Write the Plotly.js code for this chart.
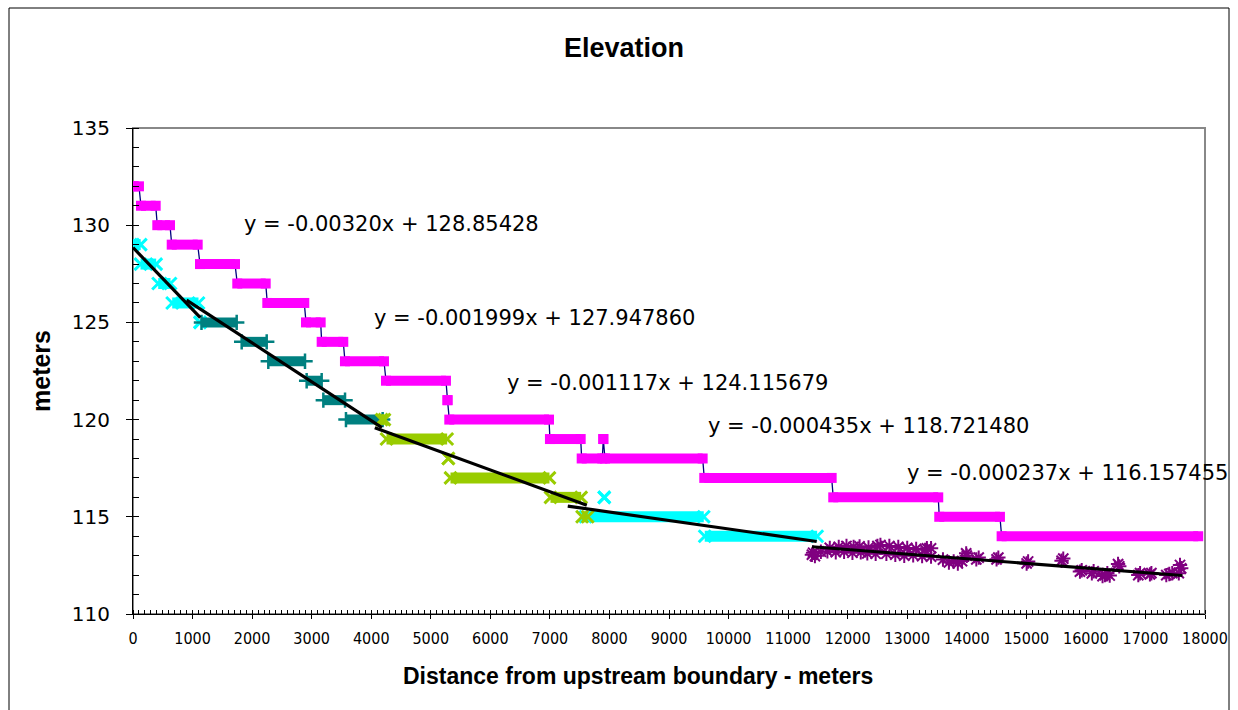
<!DOCTYPE html>
<html><head><meta charset="utf-8">
<script src="https://cdn.plot.ly/plotly-3.0.1.min.js"></script>
<style>html,body{margin:0;padding:0;background:#fff;} #chart{width:1238px;height:710px;}</style>
</head><body><div id="chart"></div>
<script>
// Magenta step series (square markers joined by a thin navy line)
const magentaLevel = [132, 131, 130, 129, 128, 127, 126, 125, 124, 123, 122, 121, 120, 119, 118, 119, 118, 117, 116, 115, 114];
const magentaStart = [0, 134, 408, 650, 1125, 1751, 2255, 2905, 3168, 3559, 4248, 5281, 5311, 7001, 7534, 7897, 7925, 9592, 11758, 13538, 14585];
const magentaEnd   = [100, 381, 621, 1086, 1713, 2228, 2876, 3151, 3531, 4214, 5255, 5281, 6985, 7517, 7880, 7897, 9565, 11731, 13521, 14557, 17886];

// Cyan x-marker series
const cyanLevel = [129, 128, 127, 126, 125, 116, 115, 114];
const cyanStart = [0, 126, 423, 658, 1125, 7913, 7600, 9600];
const cyanEnd   = [130, 389, 630, 1100, 1125, 7913, 9584, 11488];

// Teal plus-marker series
const tealLevel = [125, 124, 123, 122, 121, 120];
const tealStart = [1150, 1825, 2272, 2916, 3196, 3576];
const tealEnd   = [1741, 2245, 2888, 3168, 3560, 4192];

// Yellow-green x-marker series
const ygLevel = [120, 119, 118, 117, 116, 115];
const ygStart = [4175, 4256, 5295, 5331, 7010, 7541];
const ygEnd   = [4222, 5275, 5295, 6993, 7525, 7635];

// Purple star-marker series (survey points)
const purpleX = [11400, 11420, 11450, 11550, 11660, 11800, 11940, 12080, 12220, 12330, 12470,
  11700, 11850, 11980, 12100, 12200, 12350, 12500,
  12550, 12700, 12850, 13000, 13150, 13300, 13400,
  12650, 12800, 12950, 13100, 13250, 13400, 13330,
  13600, 13700, 13780, 13850, 13920, 13990, 14000, 14160, 14200, 14500, 14530,
  15005, 15030, 15592, 15620, 15900, 15930, 16100, 16130, 16280, 16320, 16360, 16400,
  16540, 16560, 16880, 16910, 17075, 17100, 17350, 17400, 17450, 17560, 17580, 17600];
const purpleY = [113.05, 113.15, 112.98, 113.20, 113.22, 113.18, 113.20, 113.15, 113.18, 113.12, 113.10,
  113.40, 113.45, 113.50, 113.45, 113.48, 113.42, 113.50,
  113.55, 113.50, 113.45, 113.40, 113.35, 113.30, 113.38,
  113.10, 113.05, 113.00, 113.02, 112.98, 112.95, 113.38,
  112.80, 112.65, 112.70, 112.60, 112.72, 113.12, 113.00, 112.81, 112.90, 112.81, 112.90,
  112.60, 112.70, 112.74, 112.85, 112.18, 112.25, 112.09, 112.20, 111.95, 112.00, 112.10, 111.98,
  112.57, 112.45, 112.00, 112.10, 112.04, 112.10, 112.00, 112.06, 112.10, 112.10, 112.52, 112.35];

// Linear trendlines (end points) and their equation labels
const trendX0 = [0, 900, 4060, 7300, 11400];
const trendX1 = [1130, 4180, 7620, 11480, 17620];
const trendY0 = [128.85, 126.15, 119.58, 115.55, 113.46];
const trendY1 = [125.24, 119.59, 115.60, 113.73, 111.98];
const eqText = ['y = -0.00320x + 128.85428', 'y = -0.001999x + 127.947860', 'y = -0.001117x + 124.115679',
  'y = -0.000435x + 118.721480', 'y = -0.000237x + 116.157455'];
const eqX = [1825, 4008, 6246, 9621, 12963];
const eqY = [130.04, 125.25, 121.88, 119.69, 117.23];

const xTickVals = [0,1000,2000,3000,4000,5000,6000,7000,8000,9000,10000,11000,12000,13000,14000,15000,16000,17000,18000];
const yTickVals = [110, 115, 120, 125, 130, 135];

function band(starts, ends, levels) {
  const x = [], y = [];
  for (let i = 0; i < levels.length; i++) { x.push(starts[i], ends[i], null); y.push(levels[i], levels[i], null); }
  return {x, y};
}
function path(starts, ends, levels) {
  const x = [], y = [];
  for (let i = 0; i < levels.length; i++) { x.push(starts[i], ends[i]); y.push(levels[i], levels[i]); }
  return {x, y};
}

const traces = [];
const cy = band(cyanStart, cyanEnd, cyanLevel);
traces.push({type:'scatter', mode:'lines+markers', x: cy.x, y: cy.y, connectgaps:false,
  line:{color:'#00FFFF', width:11}, marker:{symbol:'x-thin', size:12, color:'#00FFFF', line:{color:'#00FFFF', width:3}}, hoverinfo:'skip'});
const tl = band(tealStart, tealEnd, tealLevel);
traces.push({type:'scatter', mode:'lines+markers', x: tl.x, y: tl.y, connectgaps:false,
  line:{color:'#008080', width:10}, marker:{symbol:'cross-thin', size:11, color:'#008080', line:{color:'#008080', width:2.5}}, hoverinfo:'skip'});
const yg = band(ygStart, ygEnd, ygLevel);
traces.push({type:'scatter', mode:'lines+markers', x: yg.x, y: yg.y, connectgaps:false,
  line:{color:'#99CC00', width:11}, marker:{symbol:'x-thin', size:12, color:'#99CC00', line:{color:'#99CC00', width:3}}, hoverinfo:'skip'});
traces.push({type:'scatter', mode:'markers', x: purpleX, y: purpleY,
  marker:{symbol:'asterisk', size:12, color:'#800080', line:{color:'#800080', width:2}}, hoverinfo:'skip'});
const mp = path(magentaStart, magentaEnd, magentaLevel);
traces.push({type:'scatter', mode:'lines', x: mp.x, y: mp.y, line:{color:'#000080', width:1.3}, hoverinfo:'skip'});
const mg = band(magentaStart, magentaEnd, magentaLevel);
traces.push({type:'scatter', mode:'lines+markers', x: mg.x, y: mg.y, connectgaps:false,
  line:{color:'#FF00FF', width:10}, marker:{symbol:'square', size:10, color:'#FF00FF'}, hoverinfo:'skip'});
for (let i = 0; i < trendX0.length; i++) {
  traces.push({type:'scatter', mode:'lines', x:[trendX0[i], trendX1[i]], y:[trendY0[i], trendY1[i]],
    line:{color:'#000000', width:3.2}, hoverinfo:'skip'});
}

const annotations = eqText.map((t, i) => ({text: t, x: eqX[i], y: eqY[i], xref:'x', yref:'y',
  xanchor:'left', yanchor:'middle', showarrow:false, font:{family:'DejaVu Sans', size:21, color:'#000'}}));
annotations.push({text:'Distance from upstream boundary - meters', xref:'paper', yref:'paper',
  x:(638 - 133) / 1072, y:(614 - 676) / 486, xanchor:'center', yanchor:'middle', showarrow:false,
  font:{family:'Liberation Sans, Arial, sans-serif', size:23, weight:'bold', color:'#000'}});

const layout = {
  width:1238, height:710,
  margin:{l:133, r:33, t:128, b:96, pad:0},
  paper_bgcolor:'#ffffff', plot_bgcolor:'#ffffff',
  showlegend:false,
  title:{text:'Elevation', xref:'container', yref:'container', x:624/1238, y:1 - 48/710,
    xanchor:'center', yanchor:'middle', font:{family:'Liberation Sans, Arial, sans-serif', size:27, weight:'bold', color:'#000'}},
  xaxis:{range:[0, 18000], autorange:false, tickvals:xTickVals, ticktext:xTickVals.map(String),
    ticks:'outside', ticklen:4, tickwidth:1, tickcolor:'#000', showline:true, linecolor:'#000', linewidth:1,
    showgrid:false, zeroline:false, ticklabelstandoff:6,
    minor:{dtick:100, tick0:0, ticks:'inside', ticklen:4, tickwidth:1, tickcolor:'#000', showgrid:false},
    tickfont:{family:'Liberation Sans Narrow, DejaVu Sans Condensed, Liberation Sans, Arial', size:16, color:'#000'}},
  yaxis:{range:[110, 135], autorange:false, tickvals:yTickVals, ticktext:yTickVals.map(String),
    ticks:'outside', ticklen:6, tickwidth:1, tickcolor:'#000', showline:true, linecolor:'#000', linewidth:1,
    showgrid:false, zeroline:false, ticklabelstandoff:12,
    minor:{dtick:1, tick0:110, ticks:'inside', ticklen:6, tickwidth:1, tickcolor:'#000', showgrid:false},
    tickfont:{family:'DejaVu Sans', size:20, color:'#000'},
    title:{text:'meters', standoff:14, font:{family:'Liberation Sans, Arial, sans-serif', size:25, weight:'bold', color:'#000'}}},
  annotations: annotations,
  shapes:[
    {type:'rect', xref:'paper', yref:'paper', x0:0, x1:1, y0:0, y1:1, layer:'below', line:{color:'#888888', width:2}},
    {type:'rect', xref:'paper', yref:'paper', x0:(9 - 133) / 1072, x1:(1229 - 133) / 1072, y0:(614 - 720) / 486, y1:(614 - 8) / 486,
      layer:'above', line:{color:'#000000', width:1}}
  ]
};

Plotly.newPlot('chart', traces, layout, {displayModeBar:false, staticPlot:true});
</script></body></html>
